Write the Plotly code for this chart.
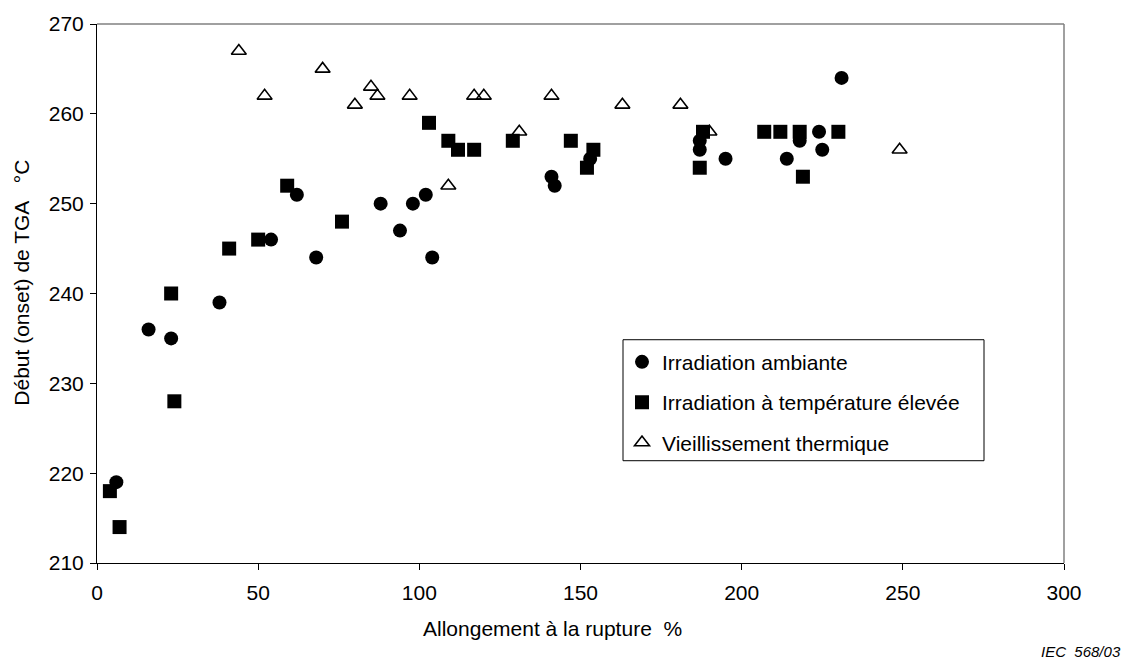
import plotly.graph_objects as go

# Irradiation ambiante
amb_x = [6, 16, 23, 38, 54, 62, 68, 88, 94, 98, 102, 104, 141, 142, 153,
         187, 187, 195, 214, 218, 224, 225, 231]
amb_y = [219, 236, 235, 239, 246, 251, 244, 250, 247, 250, 251, 244, 253, 252, 255,
         256, 257, 255, 255, 257, 258, 256, 264]

# Irradiation à température élevée
hot_x = [4, 7, 23, 24, 41, 50, 59, 76, 103, 109, 112, 117, 129, 147, 152, 154,
         187, 188, 207, 212, 218, 219, 230]
hot_y = [218, 214, 240, 228, 245, 246, 252, 248, 259, 257, 256, 256, 257, 257, 254, 256,
         254, 258, 258, 258, 258, 253, 258]

# Vieillissement thermique
age_x = [44, 52, 70, 80, 85, 87, 97, 109, 117, 120, 131, 141, 163, 181, 190, 249]
age_y = [267, 262, 265, 261, 263, 262, 262, 252, 262, 262, 258, 262, 261, 261, 258, 256]

x_ticks = [0, 50, 100, 150, 200, 250, 300]
y_ticks = [210, 220, 230, 240, 250, 260, 270]

FONT = "Arial, Liberation Sans, sans-serif"
FS = 21
NB = "\u00a0"

fig = go.Figure()
fig.add_trace(go.Scatter(
    x=amb_x, y=amb_y, mode="markers", name="Irradiation ambiante",
    legendgroup="a",
    marker=dict(symbol="circle", size=14, color="black", line=dict(width=0)),
))
fig.add_trace(go.Scatter(
    x=hot_x, y=hot_y, mode="markers", name="Irradiation à température élevée",
    legendgroup="b",
    marker=dict(symbol="square", size=14, color="black", line=dict(width=0)),
))
fig.add_trace(go.Scatter(
    x=age_x, y=age_y, mode="markers", name="Vieillissement thermique",
    legendgroup="c",
    marker=dict(symbol="triangle-up-open", size=13, color="black",
                line=dict(width=1.6, color="black")),
))

L, R, T, B = 97, 65, 15, 101
W, H = 1129, 664
pw, ph = W - L - R, H - T - B


def px_x(p):
    return (p - L) / pw


def px_y(p):
    return (H - B - p) / ph


axis_common = dict(
    showgrid=False, zeroline=False, showline=True, linecolor="black", linewidth=1,
    ticks="outside", ticklen=6, tickcolor="black", tickwidth=1,
    tickfont=dict(family=FONT, size=FS, color="black"),
)

fig.update_layout(
    width=W, height=H,
    margin=dict(l=L, r=R, t=T, b=B),
    paper_bgcolor="white", plot_bgcolor="white",
    font=dict(family=FONT, color="black"),
    xaxis=dict(range=[0, 300], tickvals=x_ticks, ticklabelstandoff=5, **axis_common),
    yaxis=dict(range=[210, 270], tickvals=y_ticks, ticklabelstandoff=2, **axis_common),
    showlegend=True,
    legend=dict(
        x=px_x(622), y=px_y(338), xanchor="left", yanchor="top",
        bgcolor="rgba(0,0,0,0)", borderwidth=0,
        font=dict(family=FONT, size=FS, color="black"),
        tracegroupgap=10,
    ),
    shapes=[
        # grey frame on top and right of the plotting area
        dict(type="line", xref="paper", yref="paper", x0=0, x1=1, y0=1, y1=1,
             line=dict(color="#808080", width=1.5)),
        dict(type="line", xref="paper", yref="paper", x0=1, x1=1, y0=0, y1=1,
             line=dict(color="#808080", width=1.5)),
        # legend box
        dict(type="rect", xref="paper", yref="paper",
             x0=px_x(623), x1=px_x(984), y0=px_y(459), y1=px_y(336),
             line=dict(color="black", width=1), fillcolor="white", layer="below"),
    ],
    annotations=[
        dict(text=f"Début (onset) de TGA{NB*3}°C", xref="paper", yref="paper",
             x=px_x(22), y=px_y(278), textangle=-90, showarrow=False,
             xanchor="center", yanchor="middle",
             font=dict(family=FONT, size=FS, color="black")),
        dict(text=f"Allongement à la rupture{NB*2}%", xref="paper", yref="paper",
             x=px_x(552), y=px_y(630), showarrow=False,
             xanchor="center", yanchor="middle",
             font=dict(family=FONT, size=FS, color="black")),
        dict(text=f"<i>IEC{NB*2}568/03</i>", xref="paper", yref="paper",
             x=px_x(1123), y=px_y(653), showarrow=False,
             xanchor="right", yanchor="middle",
             font=dict(family=FONT, size=15, color="black")),
    ],
)

fig.write_html("out.html")
